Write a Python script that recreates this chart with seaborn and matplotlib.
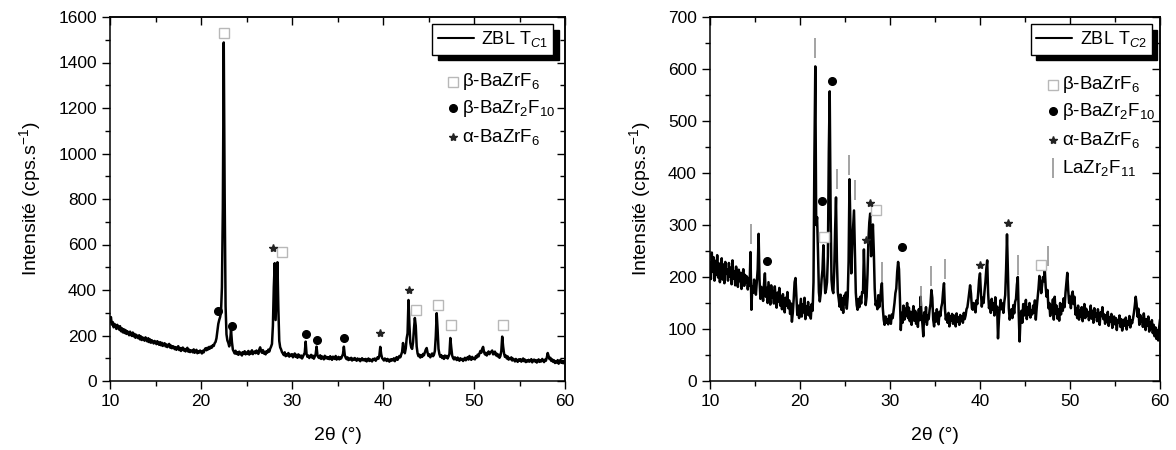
"""
XRD patterns of ZBL glass-ceramics (TC1 / TC2) with phase markers.
"""
import numpy as np
import pandas as pd
import matplotlib
matplotlib.use("Agg")
import matplotlib.pyplot as plt
from matplotlib.ticker import MultipleLocator, NullFormatter
import seaborn as sns

sns.set_theme(style="ticks")
plt.rcParams["font.family"] = ["Liberation Sans", "DejaVu Sans"]
plt.rcParams["mathtext.fontset"] = "custom"
plt.rcParams["mathtext.rm"] = "Liberation Sans"
plt.rcParams["mathtext.it"] = "Liberation Sans:italic"

# ---------- data: 2theta from 10 to 60 deg, step 0.1 ----------
two_theta_start, two_theta_step = 10.0, 0.1

tc1_rows = [
    [262, 281, 248, 259, 236, 251, 243, 229, 247, 238],  # 10
    [226, 241, 219, 232, 214, 228, 211, 224, 207, 219],
    [212, 201, 217, 205, 198, 213, 196, 207, 190, 203],
    [194, 188, 201, 183, 196, 180, 191, 186, 177, 192],
    [181, 174, 188, 171, 183, 168, 179, 172, 165, 176],
    [172, 162, 175, 166, 159, 171, 157, 168, 154, 163],  # 15
    [166, 152, 161, 149, 158, 163, 147, 156, 144, 153],
    [151, 140, 149, 137, 146, 153, 136, 145, 132, 143],
    [147, 134, 141, 130, 139, 146, 129, 138, 127, 135],
    [133, 126, 139, 124, 131, 137, 122, 130, 125, 134],
    [128, 121, 133, 126, 138, 144, 135, 146, 139, 150],  # 20
    [143, 152, 147, 158, 154, 166, 172, 188, 219, 251],
    [268, 281, 304, 412, 760, 1488, 820, 330, 205, 178],
    [168, 152, 176, 226, 171, 138, 129, 121, 133, 119],
    [126, 115, 129, 118, 124, 112, 127, 120, 131, 117],
    [125, 119, 132, 116, 128, 121, 135, 118, 126, 130],  # 25
    [122, 134, 127, 119, 138, 148, 131, 124, 136, 121],
    [128, 117, 131, 125, 138, 129, 142, 151, 163, 242],
    [412, 518, 268, 392, 522, 318, 176, 148, 139, 127],
    [121, 114, 126, 109, 118, 112, 123, 107, 116, 111],
    [118, 104, 113, 121, 106, 115, 102, 117, 110, 104],  # 30
    [112, 99, 108, 116, 124, 173, 118, 106, 112, 101],
    [109, 115, 103, 111, 98, 107, 118, 151, 112, 104],
    [101, 113, 97, 108, 103, 95, 111, 100, 106, 98],
    [104, 96, 109, 99, 93, 107, 101, 97, 110, 94],
    [100, 106, 95, 103, 99, 108, 118, 151, 114, 102],  # 35
    [96, 104, 92, 99, 95, 102, 90, 98, 93, 101],
    [95, 89, 99, 92, 97, 87, 94, 100, 91, 96],
    [90, 97, 86, 93, 99, 88, 95, 91, 86, 97],
    [93, 99, 89, 96, 104, 98, 112, 150, 118, 101],
    [96, 90, 99, 94, 88, 97, 92, 85, 95, 89],  # 40
    [96, 91, 100, 87, 97, 105, 93, 101, 110, 104],
    [116, 128, 167, 139, 122, 143, 187, 210, 356, 250],
    [168, 148, 141, 170, 228, 277, 242, 152, 121, 109],
    [116, 103, 112, 106, 119, 113, 125, 138, 145, 124],
    [110, 117, 104, 112, 121, 109, 116, 132, 196, 298],  # 45
    [226, 141, 118, 106, 114, 101, 109, 97, 112, 104],
    [110, 99, 108, 119, 189, 147, 112, 101, 95, 104],
    [98, 92, 103, 95, 89, 100, 93, 97, 88, 96],
    [102, 91, 98, 105, 94, 110, 99, 93, 106, 97],
    [101, 95, 109, 103, 116, 108, 121, 132, 124, 141],  # 50
    [150, 128, 117, 124, 112, 120, 130, 118, 126, 129],
    [134, 117, 125, 129, 113, 120, 108, 116, 102, 110],
    [132, 195, 152, 121, 106, 112, 99, 108, 94, 101],
    [96, 104, 90, 98, 93, 86, 97, 91, 84, 95],
    [89, 96, 85, 92, 99, 87, 94, 83, 90, 86],  # 55
    [93, 85, 90, 96, 82, 89, 94, 86, 92, 81],
    [88, 95, 84, 91, 86, 97, 90, 83, 94, 89],
    [103, 123, 109, 96, 102, 88, 95, 84, 91, 79],
    [87, 81, 92, 76, 85, 93, 80, 88, 78, 86],
    [90],  # 60
]

tc2_rows = [
    [228, 196, 247, 210, 238, 193, 231, 204, 242, 199],  # 10
    [226, 190, 219, 236, 195, 224, 188, 229, 206, 215],
    [193, 227, 201, 218, 186, 232, 197, 211, 184, 220],
    [203, 181, 214, 192, 208, 177, 199, 215, 183, 204],
    [189, 201, 176, 197, 184, 248, 137, 182, 170, 195],
    [178, 166, 190, 215, 283, 196, 158, 181, 172, 154],  # 15
    [186, 207, 162, 179, 150, 190, 168, 147, 184, 160],
    [173, 149, 182, 158, 141, 170, 153, 179, 145, 162],
    [138, 167, 151, 132, 160, 145, 171, 140, 155, 129],
    [149, 114, 131, 158, 190, 198, 162, 127, 145, 121],
    [139, 158, 124, 147, 132, 160, 119, 144, 128, 152],  # 20
    [126, 141, 120, 148, 135, 190, 430, 605, 300, 315],
    [248, 171, 153, 168, 196, 214, 261, 205, 169, 176],
    [190, 240, 440, 557, 330, 195, 175, 169, 210, 290],
    [353, 232, 171, 158, 143, 166, 137, 159, 131, 164],
    [148, 170, 139, 162, 230, 388, 300, 207, 262, 295],  # 25
    [328, 252, 170, 146, 137, 158, 142, 162, 149, 171],
    [170, 253, 190, 146, 162, 205, 270, 305, 322, 240],
    [255, 301, 250, 178, 146, 152, 138, 165, 142, 155],
    [175, 188, 140, 118, 108, 124, 112, 119, 109, 126],
    [117, 110, 128, 121, 135, 150, 169, 178, 210, 229],  # 30
    [215, 160, 98, 131, 112, 145, 118, 139, 126, 150],
    [121, 141, 115, 133, 108, 127, 144, 116, 135, 110],
    [129, 104, 138, 117, 162, 128, 110, 86, 132, 115],
    [142, 108, 126, 119, 137, 148, 175, 160, 118, 105],
    [130, 114, 138, 121, 109, 133, 125, 142, 150, 172],  # 35
    [188, 140, 118, 127, 112, 131, 105, 124, 116, 129],
    [110, 126, 118, 105, 130, 114, 122, 108, 127, 117],
    [124, 112, 131, 119, 126, 138, 142, 155, 170, 184],
    [168, 140, 137, 150, 143, 132, 155, 148, 170, 195],
    [207, 170, 143, 160, 150, 172, 190, 215, 232, 170],  # 40
    [140, 152, 131, 158, 137, 149, 126, 161, 135, 143],
    [82, 118, 141, 156, 138, 149, 131, 152, 165, 215],
    [282, 215, 140, 118, 129, 138, 121, 146, 130, 152],
    [158, 185, 200, 130, 76, 121, 135, 112, 148, 126],
    [138, 156, 119, 142, 127, 150, 122, 136, 128, 145],  # 45
    [132, 155, 118, 141, 160, 178, 202, 190, 169, 185],
    [200, 192, 214, 180, 162, 175, 140, 150, 125, 146],
    [131, 157, 118, 162, 129, 145, 120, 138, 116, 150],
    [128, 148, 135, 159, 142, 170, 190, 208, 175, 150],
    [162, 140, 165, 172, 148, 162, 128, 139, 121, 145],  # 50
    [118, 136, 124, 142, 115, 130, 148, 121, 139, 126],
    [133, 117, 128, 145, 120, 135, 112, 140, 124, 130],
    [115, 138, 121, 108, 132, 125, 142, 119, 128, 110],
    [126, 114, 133, 106, 122, 115, 129, 102, 118, 124],
    [109, 121, 98, 117, 112, 126, 104, 119, 97, 113],  # 55
    [118, 106, 122, 99, 114, 108, 125, 103, 117, 111],
    [120, 131, 145, 162, 148, 124, 139, 108, 127, 115],
    [121, 104, 130, 112, 98, 119, 107, 124, 95, 113],
    [100, 117, 92, 108, 86, 103, 81, 97, 78, 102],
    [118],  # 60
]

# phase markers (2theta, intensity)
tc1_beta_bazrf6 = ([22.53, 28.87, 43.63, 46.04, 47.44, 53.15], [1528, 569, 311, 335, 246, 246])
tc1_beta_bazr2f10 = ([21.9, 23.37, 31.5, 32.75, 35.71], [308, 242, 205, 180, 188])
tc1_alpha_bazrf6 = ([27.88, 39.7, 42.86], [584, 211, 400])

tc2_beta_bazrf6 = ([22.67, 28.41, 46.78], [276, 329, 223])
tc2_beta_bazr2f10 = ([16.37, 22.41, 23.59, 31.3], [230, 347, 576, 257])
tc2_alpha_bazrf6 = ([27.33, 27.78, 39.97, 43.14], [271, 342, 224, 304])
tc2_lazr2f11 = ([14.56, 21.67, 24.07, 25.44, 26.07, 29.15, 33.41, 34.52, 36.1, 44.18, 47.6],
                [282, 640, 388, 416, 368, 210, 164, 202, 216, 224, 240])

x_ticks = [10, 20, 30, 40, 50, 60]
y_ticks_tc1 = [0, 200, 400, 600, 800, 1000, 1200, 1400, 1600]
y_ticks_tc2 = [0, 100, 200, 300, 400, 500, 600, 700]


def pattern(rows):
    y = np.concatenate([np.asarray(r, dtype=float) for r in rows])
    x = np.round(two_theta_start + two_theta_step * np.arange(len(y)), 2)
    return pd.DataFrame({"two_theta": x, "intensity": y})


df1, df2 = pattern(tc1_rows), pattern(tc2_rows)

SQ = dict(marker="s", ls="none", mfc="white", mec="#b8b8b8", mew=1.0, ms=6.5)
DOT = dict(marker="o", ls="none", color="black", ms=5.5)
STAR = dict(marker="*", ls="none", color="#222222", ms=6)
BAR = dict(marker="|", ls="none", color="#8a8a8a", mew=1.1, ms=15)

fig = plt.figure(figsize=(11.76, 4.5), dpi=100)
ax1 = fig.add_axes([110 / 1176, 1 - 381 / 450, 455 / 1176, 364 / 450])
ax2 = fig.add_axes([710 / 1176, 1 - 381 / 450, 450 / 1176, 364 / 450])


def style_axes(ax, yticks, ymax, minor_y):
    ax.set_xlim(10, 60)
    ax.set_ylim(0, ymax)
    ax.set_xticks(x_ticks)
    ax.set_yticks(yticks)
    ax.xaxis.set_minor_locator(MultipleLocator(5))
    ax.yaxis.set_minor_locator(MultipleLocator(minor_y))
    ax.tick_params(which="both", direction="out", top=False, right=False,
                   labelsize=12.5, width=1.0, color="black", labelcolor="black")
    ax.tick_params(which="major", length=6)
    ax.tick_params(which="minor", length=3.5)
    for s in ax.spines.values():
        s.set_visible(True)
        s.set_linewidth(1.1)
        s.set_color("black")
    # inward ticks on top/right, Origin style
    tx = ax.secondary_xaxis("top")
    tx.set_xticks(x_ticks)
    tx.xaxis.set_minor_locator(MultipleLocator(5))
    tx.xaxis.set_major_formatter(NullFormatter())
    tx.tick_params(which="both", direction="in", width=1.0, color="black")
    tx.tick_params(which="major", length=6)
    tx.tick_params(which="minor", length=3.5)
    ty = ax.secondary_yaxis("right")
    ty.set_yticks(yticks)
    ty.yaxis.set_minor_locator(MultipleLocator(minor_y))
    ty.yaxis.set_major_formatter(NullFormatter())
    ty.tick_params(which="both", direction="in", width=1.0, color="black")
    ty.tick_params(which="major", length=6)
    ty.tick_params(which="minor", length=3.5)
    ax.set_xlabel("2θ (°)", fontsize=14, color="black", labelpad=13)
    ax.set_ylabel("Intensité (cps.s$^{-1}$)", fontsize=14, color="black", labelpad=11)


def phase_key(ax, x0, ys, entries):
    for y, (kw, label) in zip(ys, entries):
        ax.plot([x0], [y], transform=ax.transAxes, clip_on=False, **kw)
        ax.text(x0 + 0.02, y, label, transform=ax.transAxes, fontsize=13.5,
                va="center", ha="left", color="black")


for ax, df, label in [(ax1, df1, "ZBL T$_{C1}$"), (ax2, df2, "ZBL T$_{C2}$")]:
    sns.lineplot(data=df, x="two_theta", y="intensity", ax=ax, color="black",
                 linewidth=1.8, label=label, estimator=None, sort=False)

ax1.plot(*tc1_beta_bazrf6, **SQ)
ax1.plot(*tc1_beta_bazr2f10, **DOT)
ax1.plot(*tc1_alpha_bazrf6, **STAR)
ax2.plot(*tc2_lazr2f11, **BAR)
ax2.plot(*tc2_beta_bazrf6, **SQ)
ax2.plot(*tc2_beta_bazr2f10, **DOT)
ax2.plot(*tc2_alpha_bazrf6, **STAR)

style_axes(ax1, y_ticks_tc1, 1600, 100)
style_axes(ax2, y_ticks_tc2, 700, 50)

for ax, anchor in [(ax1, (0.9736, 0.9808)), (ax2, (0.9816, 0.9808))]:
    leg = ax.legend(loc="upper right", bbox_to_anchor=anchor, borderaxespad=0,
                    frameon=True, fancybox=False, edgecolor="black", framealpha=1,
                    shadow={"ox": 4, "oy": -4, "color": "black", "alpha": 1},
                    fontsize=13, handlelength=2.0, handletextpad=0.4,
                    borderpad=0.3, labelcolor="black")
    leg.get_frame().set_linewidth(1.0)
    leg.get_lines()[0].set_linewidth(1.5)

entries1 = [(SQ, "β-BaZrF$_{6}$"), (DOT, "β-BaZr$_{2}$F$_{10}$"), (STAR, "α-BaZrF$_{6}$")]
phase_key(ax1, 0.754, [0.822, 0.749, 0.671], entries1)
entries2 = entries1 + [(BAR, "LaZr$_{2}$F$_{11}$")]
phase_key(ax2, 0.763, [0.8145, 0.741, 0.663, 0.585], entries2)

fig.savefig("out.png", dpi=100)
